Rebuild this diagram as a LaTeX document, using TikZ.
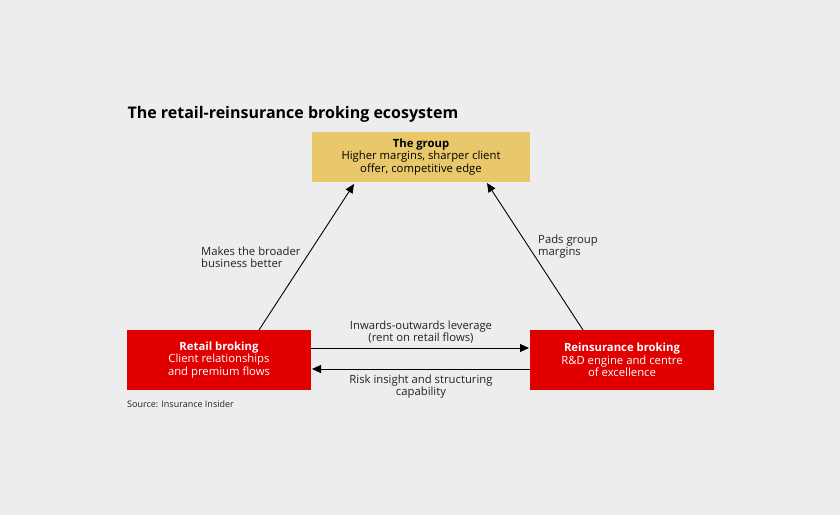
\documentclass[tikz,border=0pt]{standalone}
\usepackage{fontspec}
\setmainfont{Open Sans}
\usetikzlibrary{arrows.meta}
\definecolor{bg}{HTML}{EDEDED}
\definecolor{gold}{HTML}{E8C86A}
\definecolor{rred}{HTML}{E00000}
\definecolor{txt}{HTML}{222222}
\begin{document}
\begin{tikzpicture}[x=1pt,y=-1pt,
  box/.style={draw=none,align=center,inner sep=0pt,font=\fontsize{11.3}{12.3}\selectfont},
  lbl/.style={align=center,inner sep=0pt,text=txt,font=\fontsize{11.3}{12}\selectfont},
  arr/.style={-{Triangle[length=9pt,width=8pt]},line width=0.9pt}]
\fill[bg] (0,0) rectangle (840,515);
\useasboundingbox (0,0) rectangle (840,515);
\node[anchor=west,font=\fontsize{16}{18}\selectfont\bfseries] (title) at (124,114) {The retail-reinsurance broking ecosystem};
\node[box,fill=gold,minimum width=218pt,minimum height=50pt] (g) at (421,157) {\textbf{The group}\\Higher margins, sharper client\\offer, competitive edge};
\node[box,fill=rred,text=white,minimum width=184pt,minimum height=60pt] (r) at (219,360) {\textbf{Retail broking}\\Client relationships\\and premium flows};
\node[box,fill=rred,text=white,minimum width=184pt,minimum height=60pt] (s) at (622,360) {\textbf{Reinsurance broking}\\R\&D engine and centre\\of excellence};
\coordinate (a1) at (259,330); \coordinate (a2) at (354,184);
\coordinate (b1) at (583,330); \coordinate (b2) at (487,183);
\draw[arr] (a1) -- (a2);
\draw[arr] (b1) -- (b2);
\draw[arr] (r.east |- 0,348) -- (529,348);
\draw[arr] (s.west |- 0,369) -- (312,369);
\node[lbl,align=left,anchor=west] (l1) at (201,257) {Makes the broader\\business better};
\node[lbl,align=left,anchor=west] (l2) at (538,247) {Pads group\\margins};
\node[lbl] (l3) at (421,332) {Inwards-outwards leverage\\(rent on retail flows)};
\node[lbl] (l4) at (421,387) {Risk insight and structuring\\capability};
\node[anchor=west,inner sep=0pt,text=txt,font=\fontsize{9}{10}\selectfont] (src) at (127,404) {Source: Insurance Insider};
\end{tikzpicture}
\end{document}
